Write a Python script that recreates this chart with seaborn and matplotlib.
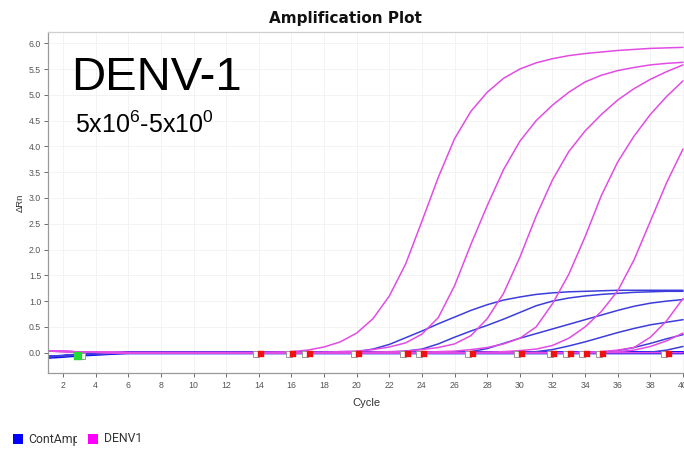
import matplotlib
matplotlib.use("Agg")
import matplotlib.pyplot as plt
import seaborn as sns
import pandas as pd
from matplotlib.transforms import Bbox
from matplotlib.patches import Rectangle

# ---------------- data ----------------
cycles = list(range(1, 41))

denv1_w1 = [0.03, 0.025, 0.015, 0.008, 0.003, 0, 0, 0, 0, 0, 0, 0, 0, 0, 0.01, 0.02, 0.05, 0.11, 0.21, 0.38,
            0.66, 1.10, 1.72, 2.55, 3.40, 4.15, 4.68, 5.05, 5.32, 5.50, 5.62, 5.70, 5.76, 5.80, 5.83, 5.86, 5.88, 5.90, 5.91, 5.92]
denv1_w2 = [0.03, 0.025, 0.015, 0.008, 0.003, 0, 0, 0, 0, 0, 0, 0, 0, 0, 0, 0, 0, 0.01, 0.02, 0.03,
            0.06, 0.11, 0.19, 0.36, 0.68, 1.30, 2.10, 2.85, 3.55, 4.10, 4.50, 4.80, 5.05, 5.25, 5.38, 5.47, 5.53, 5.58, 5.61, 5.63]
denv1_w3 = [0.03, 0.025, 0.015, 0.008, 0.003, 0, 0, 0, 0, 0, 0, 0, 0, 0, 0, 0, 0, 0, 0, 0,
            0.01, 0.02, 0.03, 0.06, 0.10, 0.17, 0.33, 0.66, 1.15, 1.85, 2.65, 3.35, 3.90, 4.30, 4.62, 4.90, 5.12, 5.30, 5.45, 5.58]
denv1_w4 = [0.03, 0.025, 0.015, 0.008, 0.003, 0, 0, 0, 0, 0, 0, 0, 0, 0, 0, 0, 0, 0, 0, 0,
            0, 0, 0, 0.01, 0.02, 0.03, 0.06, 0.10, 0.17, 0.28, 0.50, 0.95, 1.52, 2.25, 3.05, 3.70, 4.20, 4.62, 4.97, 5.27]
denv1_w5 = [0.03, 0.025, 0.015, 0.008, 0.003, 0, 0, 0, 0, 0, 0, 0, 0, 0, 0, 0, 0, 0, 0, 0,
            0, 0, 0, 0, 0, 0, 0, 0.01, 0.02, 0.04, 0.07, 0.14, 0.28, 0.50, 0.80, 1.20, 1.80, 2.55, 3.30, 3.95]
denv1_w6 = [0.03, 0.025, 0.015, 0.008, 0.003, 0, 0, 0, 0, 0, 0, 0, 0, 0, 0, 0, 0, 0, 0, 0,
            0, 0, 0, 0, 0, 0, 0, 0, 0, 0, 0, 0, 0, 0.01, 0.02, 0.05, 0.10, 0.30, 0.62, 1.05]
denv1_w7 = [0.03, 0.025, 0.015, 0.008, 0.003, 0, 0, 0, 0, 0, 0, 0, 0, 0, 0, 0, 0, 0, 0, 0,
            0, 0, 0, 0, 0, 0, 0, 0, 0, 0, 0, 0, 0, 0, 0, 0.02, 0.05, 0.12, 0.23, 0.38]
denv1_ntc = [0.03, 0.025, 0.015, 0.008, 0.003, 0, 0, 0, 0, 0, 0, 0, 0, 0, 0, 0, 0, 0, 0, 0,
             0, 0, 0, 0, 0, 0, 0, 0, 0, 0, 0, 0, 0, 0, 0, 0, 0, 0, 0, 0]

cont_w1 = [-0.08, -0.06, -0.04, -0.025, -0.01, 0, 0, 0, 0, 0, 0, 0, 0, 0, 0, 0, 0.005, 0.01, 0.02, 0.02,
           0.07, 0.16, 0.29, 0.42, 0.56, 0.69, 0.82, 0.93, 1.02, 1.08, 1.13, 1.16, 1.18, 1.19, 1.20, 1.21, 1.21, 1.21, 1.21, 1.21]
cont_w2 = [-0.08, -0.06, -0.04, -0.025, -0.01, 0, 0, 0, 0, 0, 0, 0, 0, 0, 0, 0, 0, 0, 0, 0,
           0.005, 0.01, 0.03, 0.07, 0.17, 0.30, 0.42, 0.53, 0.65, 0.78, 0.91, 1.00, 1.06, 1.10, 1.13, 1.15, 1.17, 1.18, 1.19, 1.19]
cont_w3 = [-0.08, -0.06, -0.04, -0.025, -0.01, 0, 0, 0, 0, 0, 0, 0, 0, 0, 0, 0, 0, 0, 0, 0,
           0, 0, 0, 0, 0, 0.005, 0.02, 0.08, 0.18, 0.28, 0.37, 0.46, 0.55, 0.64, 0.73, 0.82, 0.90, 0.96, 1.00, 1.03]
cont_w4 = [-0.08, -0.06, -0.04, -0.025, -0.01, 0, 0, 0, 0, 0, 0, 0, 0, 0, 0, 0, 0, 0, 0, 0,
           0, 0, 0, 0, 0, 0, 0, 0, 0, 0.005, 0.02, 0.06, 0.13, 0.21, 0.30, 0.39, 0.47, 0.54, 0.59, 0.64]
cont_w5 = [-0.08, -0.06, -0.04, -0.025, -0.01, 0, 0, 0, 0, 0, 0, 0, 0, 0, 0, 0, 0, 0, 0, 0,
           0, 0, 0, 0, 0, 0, 0, 0, 0, 0, 0, 0, 0, 0, 0.01, 0.04, 0.10, 0.18, 0.27, 0.35]
cont_w6 = [-0.08, -0.06, -0.04, -0.025, -0.01, 0, 0, 0, 0, 0, 0, 0, 0, 0, 0, 0, 0, 0, 0, 0,
           0, 0, 0, 0, 0, 0, 0, 0, 0, 0, 0, 0, 0, 0, 0, 0, 0, 0.01, 0.05, 0.12]
cont_ntc = [-0.09, -0.07, -0.045, -0.03, -0.012, 0, 0, 0, 0, 0, 0, 0, 0, 0, 0, 0, 0, 0, 0, 0,
            0, 0, 0, 0, 0, 0, 0, 0, 0, 0, 0, 0, 0, 0, 0, 0, 0, 0, 0, 0]

# threshold / Ct markers along the baseline
ct_cycles = [14, 16, 17, 20, 23, 24, 27, 30, 32, 33, 34, 35, 39]
ct_level = -0.035
start_cycle = [2.9]
start_level = -0.07

x_ticks = list(range(2, 41, 2))
y_ticks = [0.0, 0.5, 1.0, 1.5, 2.0, 2.5, 3.0, 3.5, 4.0, 4.5, 5.0, 5.5, 6.0]
targets = ["ContAmp", "DENV1"]

# ---------------- build tables ----------------
amp_wells = {
    ("ContAmp", "c1"): cont_w1, ("ContAmp", "c2"): cont_w2, ("ContAmp", "c3"): cont_w3,
    ("ContAmp", "c4"): cont_w4, ("ContAmp", "c5"): cont_w5, ("ContAmp", "c6"): cont_w6,
    ("DENV1", "d1"): denv1_w1, ("DENV1", "d2"): denv1_w2, ("DENV1", "d3"): denv1_w3,
    ("DENV1", "d4"): denv1_w4, ("DENV1", "d5"): denv1_w5, ("DENV1", "d6"): denv1_w6,
    ("DENV1", "d7"): denv1_w7,
}
rows = []
for (tgt, well), vals in amp_wells.items():
    assert len(vals) == len(cycles), well
    for c, v in zip(cycles, vals):
        rows.append({"Cycle": c, "dRn": v, "Target": tgt, "Well": well})
df_amp = pd.DataFrame(rows)
df_cont = df_amp[df_amp.Target == "ContAmp"]
df_denv = df_amp[df_amp.Target == "DENV1"]
df_flat_blue = pd.DataFrame({"Cycle": cycles, "dRn": cont_ntc})
df_flat_mag = pd.DataFrame({"Cycle": cycles, "dRn": denv1_ntc})
df_ct = pd.DataFrame({"Cycle": ct_cycles, "dRn": [ct_level] * len(ct_cycles)})
df_start = pd.DataFrame({"Cycle": start_cycle, "dRn": [start_level]})

# ---------------- style ----------------
sns.set_style("white")
plt.rcParams["font.family"] = ["Liberation Sans", "DejaVu Sans"]
plt.rcParams["mathtext.fontset"] = "custom"
plt.rcParams["mathtext.rm"] = "Liberation Sans"
plt.rcParams["mathtext.it"] = "Liberation Sans"

W, H = 684, 451
fig = plt.figure(figsize=(W / 100, H / 100), dpi=100)
fig.patch.set_facecolor("white")
x0, x1 = 1.08, 40.5
ax_left, ax_bottom = 48, 373
ax_w = (x1 - x0) * 16.316
ax_h = 373 - 32
ax = fig.add_axes([ax_left / W, (H - ax_bottom) / H, ax_w / W, ax_h / H])

BLUE_LINE = "#3d3ddc"
MAG_LINE = "#e24ce4"

sns.lineplot(data=df_flat_blue, x="Cycle", y="dRn", color="#1010f5", lw=2.4, ax=ax)
sns.lineplot(data=df_cont, x="Cycle", y="dRn", units="Well", estimator=None,
             color=BLUE_LINE, lw=1.1, ax=ax, legend=False)
sns.lineplot(data=df_flat_mag, x="Cycle", y="dRn", color=MAG_LINE, lw=1.1, ax=ax)
sns.lineplot(data=df_denv, x="Cycle", y="dRn", units="Well", estimator=None,
             color=MAG_LINE, lw=1.1, ax=ax, legend=False)

# markers: grey-outlined white square just left, red square just right
sns.scatterplot(x=df_ct.Cycle - 0.17, y=df_ct.dRn, marker="s", s=18, color="white",
                edgecolor="#999999", linewidth=0.7, ax=ax, zorder=5)
sns.scatterplot(x=df_ct.Cycle + 0.12, y=df_ct.dRn, marker="s", s=20, color="#ee1111",
                edgecolor="#ee1111", linewidth=0.3, ax=ax, zorder=6)
sns.scatterplot(x=df_start.Cycle + 0.25, y=df_start.dRn, marker="s", s=20, color="white",
                edgecolor="#999999", linewidth=0.7, ax=ax, zorder=5)
sns.scatterplot(x=df_start.Cycle, y=df_start.dRn, marker="s", s=40, color="#22dd33",
                edgecolor="#22cc33", linewidth=0.3, ax=ax, zorder=6)

ax.set_xlim(x0, x1)
ax.set_ylim(-0.394, 6.218)
ax.set_xticks(x_ticks)
ax.set_yticks(y_ticks)
ax.set_yticklabels([f"{v:.1f}" for v in y_ticks])
ax.tick_params(axis="both", which="major", labelsize=6.3, colors="#555555",
               length=3, width=0.6, direction="out", pad=2,
               left=True, bottom=True)
ax.tick_params(axis="x", pad=3)
ax.grid(True, color="#f3f3f3", lw=0.7)
ax.set_axisbelow(True)
for side in ["left", "bottom"]:
    ax.spines[side].set_color("#9a9a9a")
    ax.spines[side].set_linewidth(0.9)
ax.spines["top"].set_color("#cfcfcf")
ax.spines["top"].set_linewidth(0.9)
ax.spines["right"].set_visible(False)

ax.set_xlabel("Cycle", fontsize=8, color="#333333")
ax.set_ylabel("ΔRn", fontsize=6.8, color="#333333")
ax.xaxis.set_label_coords((366 - ax_left) / ax_w, -(398 - 373) / ax_h)
ax.yaxis.set_label_coords(-(48 - 25) / ax_w, 0.5)

# title and annotations
fig.text(345.5 / W, (H - 23) / H, "Amplification Plot", fontsize=11, fontweight="bold",
         family=["DejaVu Sans"], ha="center", va="baseline", color="#111111")
fig.text(71 / W, (H - 90) / H, "DENV-1", fontsize=34, ha="left", va="baseline", color="black")
fig.text(75 / W, (H - 133) / H, r"5x10$^{6}$-5x10$^{0}$", fontsize=18, ha="left",
         va="baseline", color="black")

# legend (bottom left)
fig.patches.append(Rectangle((13 / W, (H - 444) / H), 10 / W, 10 / H, transform=fig.transFigure,
                             facecolor="#0000ff", edgecolor="none"))
fig.patches.append(Rectangle((88 / W, (H - 444) / H), 10 / W, 10 / H, transform=fig.transFigure,
                             facecolor="#ff00ff", edgecolor="none"))
t1 = fig.text(28 / W, (H - 439) / H, targets[0], fontsize=8.8, family=["Roboto", "DejaVu Sans"],
              ha="left", va="center", color="#333333")
t1.set_clip_on(True)
t1.set_clip_box(Bbox.from_extents(0, 0, 76.5, H))
fig.text(104 / W, (H - 439) / H, targets[1], fontsize=8.8, family=["Roboto", "DejaVu Sans"],
         ha="left", va="center", color="#333333")

fig.savefig("out.png", dpi=100, facecolor="white")
